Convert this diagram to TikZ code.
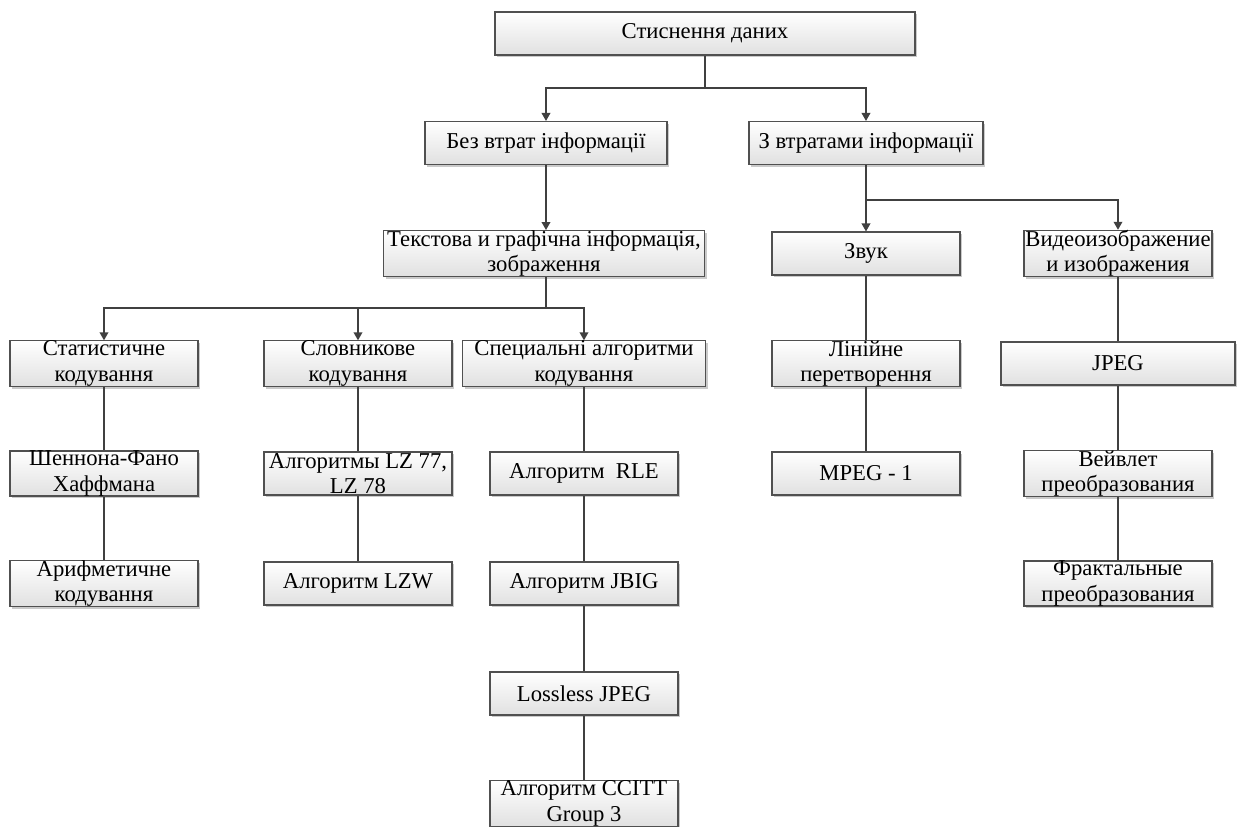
\documentclass[tikz,border=0pt]{standalone}
\usepackage{fontspec}
\setmainfont{Liberation Serif}
\usetikzlibrary{shadows,arrows.meta}
\definecolor{edgec}{HTML}{404040}
\definecolor{boxc}{HTML}{505050}
\tikzset{
  box/.style={draw=boxc, line width=0.8pt, shading=axis, top color=white, bottom color=black!12,
    drop shadow={shadow xshift=1.8pt, shadow yshift=-1.8pt, fill=black!35, opacity=0.6},
    inner sep=0pt, align=center, minimum height=32.25pt, minimum width=141pt,
    font=\fontsize{17}{19}\selectfont},
  conn/.style={draw=edgec, line width=1.1pt},
  arr/.style={conn, -{Triangle[width=6.5pt,length=6pt]}},
}
\begin{document}
\begin{tikzpicture}[x=0.75pt,y=-0.75pt]
\useasboundingbox (0,0) rectangle (1243,826);
% level 0
\node[box, minimum width=315pt] (root) at (705,33.5) {Стиснення даних};
% level 1
\node[box, minimum width=181.5pt] (bez) at (546,143) {Без втрат інформації};
\node[box, minimum width=175.5pt] (zvtr) at (866,143) {З втратами інформації};
% level 2
\node[box, minimum width=240.75pt] (tekst) at (544,253.5) {Текстова и графічна інформація,\\зображення};
\node[box] (zvuk) at (866,253.5) {Звук};
\node[box] (video) at (1118,253.5) {Видеоизображение\\и изображения};
% level 3
\node[box] (stat) at (104,363.5) {Статистичне\\кодування};
\node[box] (slov) at (358,363.5) {Словникове\\кодування};
\node[box, minimum width=182.25pt] (spec) at (584,363.5) {Специальні алгоритми\\кодування};
\node[box] (lin) at (866,363.5) {Лінійне\\перетворення};
\node[box, minimum width=175.5pt] (jpeg) at (1118,363.5) {JPEG};
% level 4
\node[box] (shen) at (104,473.5) {Шеннона-Фано\\Хаффмана};
\node[box] (lz) at (358,473.5) {Алгоритмы LZ 77,\\LZ 78};
\node[box] (rle) at (584,473.5) {Алгоритм\ \ RLE};
\node[box] (mpeg) at (866,473.5) {MPEG - 1};
\node[box] (veiv) at (1118,473.5) {Вейвлет\\преобразования};
% level 5
\node[box] (arif) at (104,583.5) {Арифметичне\\кодування};
\node[box] (lzw) at (358,583.5) {Алгоритм LZW};
\node[box] (jbig) at (584,583.5) {Алгоритм JBIG};
\node[box] (fract) at (1118,583.5) {Фрактальные\\преобразования};
% level 6, 7
\node[box] (lossless) at (584,693.5) {Lossless JPEG};
\node[box] (ccitt) at (584,803.5) {Алгоритм CCITT\\Group 3};
% connectors
\coordinate (j0) at (705,88);
\draw[arr] (root.south) -- (j0) -| (bez.north);
\draw[arr] (j0) -| (zvtr.north);
\draw[arr] (bez.south) -- (bez.south |- tekst.north);
\coordinate (j1) at (866,200);
\draw[arr] (zvtr.south) -- (j1) -- (zvuk.north);
\draw[arr] (j1) -| (video.north);
\coordinate (j2) at (546,308);
\draw[arr] (tekst.south -| j2) -- (j2) -| (stat.north);
\draw[arr] (j2) -| (slov.north);
\draw[arr] (j2) -| (spec.north);
\draw[conn] (stat.south) -- (shen.north);
\draw[conn] (shen.south) -- (arif.north);
\draw[conn] (slov.south) -- (lz.north);
\draw[conn] (lz.south) -- (lzw.north);
\draw[conn] (spec.south) -- (rle.north);
\draw[conn] (rle.south) -- (jbig.north);
\draw[conn] (jbig.south) -- (lossless.north);
\draw[conn] (lossless.south) -- (ccitt.north);
\draw[conn] (zvuk.south) -- (lin.north);
\draw[conn] (lin.south) -- (mpeg.north);
\draw[conn] (video.south) -- (jpeg.north);
\draw[conn] (jpeg.south) -- (veiv.north);
\draw[conn] (veiv.south) -- (fract.north);
\end{tikzpicture}
\end{document}
